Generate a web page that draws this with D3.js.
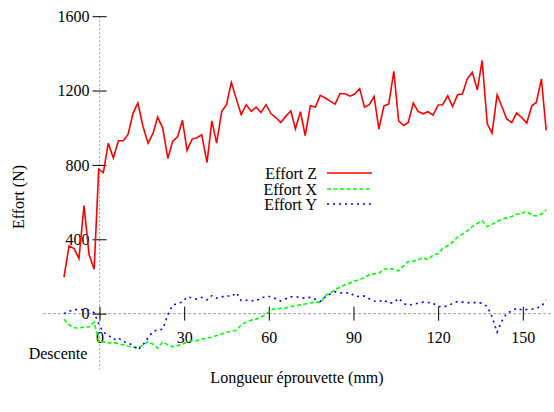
<!DOCTYPE html>
<html><head><meta charset="utf-8">
<script src="https://cdn.jsdelivr.net/npm/d3@7"></script>
<style>body{margin:0;background:#fff}svg{display:block}text{font-family:"Liberation Serif","Times New Roman",serif;}</style>
</head><body>
<script>
const positions = [-12.6,-10.8,-9.0,-7.3,-5.5,-3.7,-1.9,-0.3,1.35,3.1,4.9,6.7,8.4,10.1,11.9,13.6,15.4,17.2,19.0,20.6,22.4,24.2,25.9,27.7,29.4,31.0,32.8,34.5,36.2,38.1,39.8,41.5,43.3,45.0,46.7,48.5,50.2,52.0,53.8,55.5,57.2,59.0,60.8,62.5,64.2,66.0,67.8,69.4,71.2,72.9,74.7,76.5,78.2,80.0,81.7,83.5,85.2,87.0,88.8,90.4,92.2,93.9,95.6,97.3,99.0,100.8,102.5,104.3,106.0,107.8,109.4,111.2,112.9,114.6,116.4,118.2,120.0,121.6,123.4,125.1,126.9,128.6,130.3,132.1,133.9,135.6,137.4,139.1,140.9,142.6,144.3,146.1,147.8,149.6,151.4,153.2,154.8,156.6,158.3];
const effortZ = [196,364,350,296,581,316,239,777,759,917,837,930,930,964,1079,1133,1007,917,971,1057,998,835,926,953,1040,878,939,946,962,813,1037,917,1088,1124,1244,1154,1070,1124,1088,1111,1082,1124,1075,1055,1028,1061,1091,994,1086,957,1118,1111,1174,1160,1143,1127,1184,1183,1170,1181,1211,1111,1124,1168,993,1118,1127,1303,1037,1012,1028,1133,1088,1075,1086,1068,1122,1124,1172,1114,1177,1181,1262,1298,1204,1362,1021,971,1177,1114,1047,1028,1079,1055,1025,1118,1136,1262,985];
const effortX = [-30,-60,-75,-80,-70,-72,-45,-150,-152,-158,-155,-162,-168,-175,-180,-185,-168,-150,-165,-186,-152,-168,-178,-172,-165,-152,-145,-145,-138,-130,-128,-118,-110,-100,-95,-90,-60,-45,-35,-30,-18,-5,22,26,28,30,38,42,47,52,57,64,58,98,110,130,142,155,165,175,185,192,210,214,218,238,244,238,230,258,280,282,290,302,290,315,322,350,365,385,412,428,445,468,485,500,468,480,495,508,515,522,535,540,550,530,525,535,558];
const effortY = [0,12,22,20,22,18,5,-55,-100,-115,-140,-130,-150,-158,-170,-195,-168,-130,-95,-88,-84,-5,45,55,62,90,85,78,88,74,97,83,90,97,92,113,70,72,70,68,85,92,92,80,68,80,90,92,86,83,88,78,65,90,105,118,112,110,113,95,92,95,80,68,65,74,55,60,83,55,45,50,56,62,60,56,38,38,41,55,65,62,59,59,59,56,38,-16,-100,-40,2,14,30,20,22,24,30,38,74];
const seriesNames = ["Effort Z","Effort X","Effort Y"];
const xTicks = [0,30,60,90,120,150];
const yTicks = [0,400,800,1200,1600];

const W=554,H=412;
const svg=d3.select("body").append("svg").attr("width",W).attr("height",H);
const x=d3.scaleLinear().domain([-20,160]).range([43.1,551]);
const y=d3.scaleLinear().domain([-300,1600]).range([369.4,16.2]);

// zero axes (dotted grey)
svg.append("line").attr("x1",x(-20)).attr("x2",x(160)).attr("y1",y(0)).attr("y2",y(0))
  .attr("stroke","#a0a0a0").attr("stroke-width",1).attr("stroke-dasharray","3,2");
svg.append("line").attr("x1",x(0)).attr("x2",x(0)).attr("y1",y(1600)).attr("y2",y(-300))
  .attr("stroke","#a0a0a0").attr("stroke-width",1).attr("stroke-dasharray","2,2");

const yAxis=svg.append("g").attr("transform",`translate(${x(0)},0)`)
  .call(d3.axisLeft(y).tickValues(yTicks).tickSizeInner(7).tickSizeOuter(0).tickPadding(3).tickFormat(d3.format("d")));
yAxis.select(".domain").remove();
yAxis.selectAll(".tick line").attr("x1",7).attr("x2",-7).attr("stroke","#000");
yAxis.selectAll("text").attr("font-size",16).attr("font-family","Liberation Serif").attr("fill","#000");

const xAxis=svg.append("g").attr("transform",`translate(0,${y(0)})`)
  .call(d3.axisBottom(x).tickValues(xTicks).tickSizeInner(7).tickSizeOuter(0).tickPadding(11).tickFormat(d3.format("d")));
xAxis.select(".domain").remove();
xAxis.selectAll(".tick line").attr("y1",-7).attr("y2",7).attr("stroke","#000");
xAxis.selectAll("text").attr("font-size",16).attr("font-family","Liberation Serif").attr("fill","#000");

const styles=[{c:"#ff0000",d:null},{c:"#00ff00",d:"4,2.5"},{c:"#0000ff",d:"2,4"}];
const data=[effortZ,effortX,effortY];
const line=d3.line().x((d,i)=>x(positions[i])).y(d=>y(d));
data.forEach((s,k)=>{
  svg.append("path").datum(s).attr("d",line).attr("fill","none")
    .attr("stroke",styles[k].c).attr("stroke-width",1.6)
    .attr("stroke-dasharray",styles[k].d);
});

// legend
const ly=[173,189,204];
seriesNames.forEach((n,k)=>{
  svg.append("text").attr("x",317).attr("y",ly[k]).attr("dy","0.35em").attr("text-anchor","end")
    .attr("font-size",16).text(n);
  svg.append("line").attr("x1",327).attr("x2",372).attr("y1",ly[k]).attr("y2",ly[k])
    .attr("stroke",styles[k].c).attr("stroke-width",1.6).attr("stroke-dasharray",styles[k].d);
});

svg.append("text").attr("x",58).attr("y",353).attr("dy","0.35em").attr("text-anchor","middle")
  .attr("font-size",16).text("Descente");
svg.append("text").attr("x",297).attr("y",377).attr("dy","0.35em").attr("text-anchor","middle")
  .attr("font-size",16).text("Longueur éprouvette (mm)");
svg.append("text").attr("transform","translate(18,197) rotate(-90)").attr("dy","0.35em")
  .attr("text-anchor","middle").attr("font-size",16).text("Effort (N)");
</script>
</body></html>
